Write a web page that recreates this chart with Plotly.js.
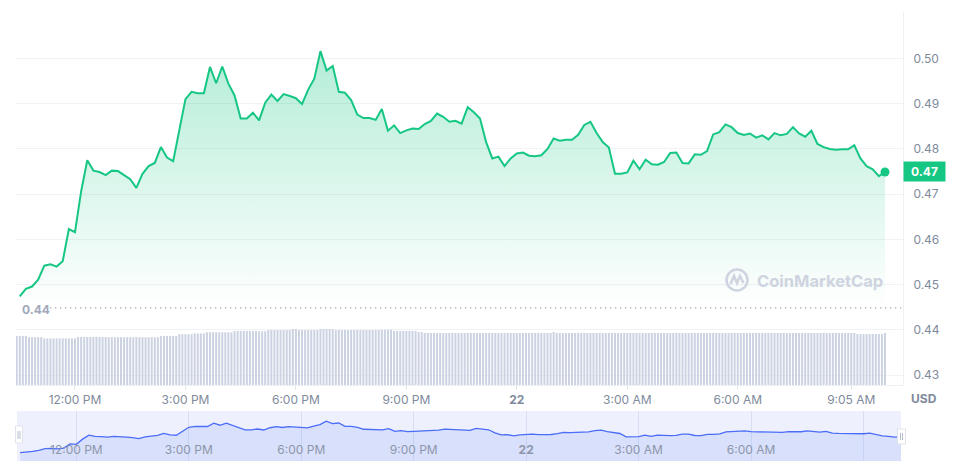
<!DOCTYPE html>
<html>
<head>
<meta charset="utf-8">
<script src="https://cdn.plot.ly/plotly-3.0.1.min.js"></script>
<style>
html,body{margin:0;padding:0;background:#fff;}
#chart{width:970px;height:475px;}
</style>
</head>
<body>
<div id="chart"></div>
<script>
// ---------- DATA ----------
// price, every 10 minutes from 21st 10:30 to 22nd 10:00
const priceStart = '2024-01-21T10:30:00Z';
const priceStepMinutes = 10;
const price = [
  0.4474, 0.4491, 0.4496, 0.4511, 0.4542, 0.4545, 0.4540, 0.4552, 0.4623, 0.4616,
  0.4706, 0.4775, 0.4752, 0.4749, 0.4742, 0.4752, 0.4751, 0.4742, 0.4733, 0.4714,
  0.4745, 0.4762, 0.4769, 0.4804, 0.4781, 0.4773, 0.4843, 0.4910, 0.4926, 0.4923,
  0.4923, 0.4981, 0.4945, 0.4982, 0.4944, 0.4918, 0.4867, 0.4867, 0.4880, 0.4863,
  0.4902, 0.4920, 0.4906, 0.4921, 0.4917, 0.4912, 0.4899, 0.4931, 0.4955, 0.5016,
  0.4973, 0.4983, 0.4926, 0.4924, 0.4908, 0.4876, 0.4868, 0.4868, 0.4864, 0.4888,
  0.4840, 0.4852, 0.4835, 0.4841, 0.4845, 0.4844, 0.4855, 0.4862, 0.4878, 0.4871,
  0.4860, 0.4862, 0.4856, 0.4892, 0.4881, 0.4867, 0.4815, 0.4779, 0.4783, 0.4762,
  0.4779, 0.4790, 0.4792, 0.4785, 0.4784, 0.4786, 0.4800, 0.4823, 0.4818, 0.4820,
  0.4820, 0.4831, 0.4853, 0.4860, 0.4835, 0.4815, 0.4803, 0.4745, 0.4745, 0.4748,
  0.4774, 0.4755, 0.4776, 0.4766, 0.4765, 0.4771, 0.4791, 0.4792, 0.4769, 0.4768,
  0.4788, 0.4787, 0.4795, 0.4832, 0.4837, 0.4854, 0.4848, 0.4835, 0.4831, 0.4834,
  0.4825, 0.4830, 0.4821, 0.4835, 0.4830, 0.4833, 0.4848, 0.4834, 0.4827, 0.4840,
  0.4811, 0.4804, 0.4800, 0.4798, 0.4799, 0.4799, 0.4808, 0.4779, 0.4762, 0.4755,
  0.4740, 0.4749
];
const lowPrice = 0.4449;      // dotted low line, labelled 0.44

// volume (millions USD, 24h rolling), every 5 minutes from 21st 10:25
const volumeStart = '2024-01-21T10:25:00Z';
const volumeStepMinutes = 5;
const volume = [
  283,283,283,283,276,276,276,276,276,
  269,269,269,269,269,269,269,269,269,269,269,
  277,277,277,277,277,277,277,277,277,277,
  276,276,276,276,276,276,276,276,276,276,276,276,276,276,276,276,276,
  283,283,283,283,283,283,
  293,293,293,293,293,
  298,298,298,298,
  304,304,304,304,304,304,304,304,304,
  312,312,312,312,312,312,312,312,
  310,310,310,
  317,317,317,317,317,317,317,317,
  323,323,
  317,317,317,317,317,317,317,
  323,323,323,323,323,
  317,317,317,317,317,317,317,317,317,317,317,317,317,317,317,
  319,319,319,319,
  312,312,312,312,312,312,312,312,
  306,306,
  300,300,300,300,300,300,300,300,300,300,
  300,300,300,300,300,300,300,300,300,300,
  300,300,300,300,300,300,300,300,300,300,
  300,300,300,300,300,300,300,300,300,300,
  300,300,
  306,
  300,300,300,300,300,300,300,300,300,300,
  300,300,300,300,300,300,300,300,300,300,
  300,300,300,300,300,300,300,300,300,300,
  300,300,300,300,300,300,300,300,300,300,
  300,300,300,300,300,300,300,300,300,300,
  300,300,300,300,300,300,300,300,300,300,
  300,300,300,300,300,300,300,300,300,300,
  300,300,300,300,300,300,300,300,300,300,
  300,300,300,300,300,300,300,300,300,300,
  300,300,300,300,300,300,300,300,
  294,294,294,294,294,294,294,294,294,
  300
];

const mainTickTimes = ['2024-01-21 12:00','2024-01-21 15:00','2024-01-21 18:00','2024-01-21 21:00',
                       '2024-01-22 00:00','2024-01-22 03:00','2024-01-22 06:00','2024-01-22 09:05'];
const mainTickText  = ['12:00 PM','3:00 PM','6:00 PM','9:00 PM','<b>22</b>','3:00 AM','6:00 AM','9:05 AM'];
const navTickTimes  = ['2024-01-21 12:00','2024-01-21 15:00','2024-01-21 18:00','2024-01-21 21:00',
                       '2024-01-22 00:00','2024-01-22 03:00','2024-01-22 06:00','2024-01-22 09:00'];
const navTickText   = ['12:00 PM','3:00 PM','6:00 PM','9:00 PM','<b>22</b>','3:00 AM','6:00 AM',''];
const priceTicks    = [0.43,0.44,0.45,0.46,0.47,0.48,0.49,0.50];
const priceTickText = ['0.43','0.44','0.45','0.46','0.47','0.48','0.49','0.50'];

// ---------- helpers ----------
function timeSeries(startIso, stepMin, n){
  const t0 = Date.parse(startIso), out = [];
  for (let i = 0; i < n; i++){
    out.push(new Date(t0 + i*stepMin*60000).toISOString().slice(0,19).replace('T',' '));
  }
  return out;
}
const priceTime = timeSeries(priceStart, priceStepMinutes, price.length);
const volumeTime = timeSeries(volumeStart, volumeStepMinutes, volume.length);
const lastPrice = price[price.length-1];
const maxPrice = Math.max.apply(null, price);

const W = 970, H = 475;
const px = x => x / W;
const py = y => (H - y) / H;

const GREEN = '#16c784';
const LABEL = '#808a9d';
const FONT = 'Inter, "Noto Sans", sans-serif';

// ---------- traces ----------
const traces = [
  { // volume bars
    type:'bar', x: volumeTime, y: volume, xaxis:'x', yaxis:'y3',
    marker:{color:'#cbd2e1', line:{width:0}}, hoverinfo:'skip'
  },
  { // baseline for fill
    type:'scatter', mode:'lines', x:[priceTime[0], priceTime[priceTime.length-1]], y:[lowPrice, lowPrice],
    line:{width:0, color:'rgba(0,0,0,0)'}, xaxis:'x', yaxis:'y', hoverinfo:'skip'
  },
  { // price line
    type:'scatter', mode:'lines', x: priceTime, y: price, xaxis:'x', yaxis:'y',
    line:{color:GREEN, width:2, shape:'linear'},
    fill:'tonexty',
    fillgradient:{type:'vertical', start:lowPrice, stop:maxPrice,
      colorscale:[[0,'rgba(22,199,132,0.0)'],[1,'rgba(22,199,132,0.32)']]},
    hoverinfo:'skip'
  },
  { // end dot
    type:'scatter', mode:'markers', x:[priceTime[priceTime.length-1]], y:[lastPrice],
    marker:{color:GREEN, size:9}, xaxis:'x', yaxis:'y', hoverinfo:'skip'
  },
  { // navigator
    type:'scatter', mode:'lines', x: priceTime, y: price, xaxis:'x2', yaxis:'y2',
    line:{color:'#4a6cf7', width:1.3}, fill:'tozeroy', fillcolor:'rgba(80,115,250,0.13)', hoverinfo:'skip'
  }
];

// ---------- layout ----------
const layout = {
  width: W, height: H,
  margin:{l:0, r:0, t:0, b:0},
  paper_bgcolor:'#ffffff', plot_bgcolor:'#ffffff',
  showlegend:false, hovermode:false,
  font:{family:FONT, size:12, color:LABEL},
  bargap:0.35,
  xaxis:{
    domain:[px(16), px(903)], type:'date',
    range:['2024-01-21 10:23:52','2024-01-22 10:29:20'],
    tickvals: mainTickTimes, ticktext: mainTickText,
    showgrid:false, zeroline:false,
    showline:true, linecolor:'#eef0f4', linewidth:1,
    ticks:'outside', ticklen:4, tickcolor:'#e3e7ee',
    tickfont:{family:FONT, size:12, color:LABEL},
    anchor:'y', fixedrange:true
  },
  yaxis:{
    domain:[py(385), py(12)], range:[0.42785, 0.51024],
    side:'right', anchor:'x',
    tickvals: priceTicks, ticktext: priceTickText,
    showgrid:true, gridcolor:'#f0f2f5', gridwidth:1, zeroline:false,
    showline:true, linecolor:'#eef0f4', linewidth:1,
    ticks:'', ticklabelstandoff:7,
    tickfont:{family:FONT, size:12, color:LABEL},
    fixedrange:true
  },
  yaxis3:{
    overlaying:'y', range:[0, 2152], visible:false, fixedrange:true
  },
  xaxis2:{
    domain:[px(17), px(901)], type:'date', anchor:'y2',
    range:['2024-01-21 10:25','2024-01-22 10:00'],
    tickvals: navTickTimes, ticktext: navTickText,
    ticklabelposition:'inside', ticks:'', ticklabelstandoff:2,
    showgrid:true, gridcolor:'#d9dff3', gridwidth:1,
    showline:false, zeroline:false,
    tickfont:{family:FONT, size:12, color:'#8d96aa'},
    fixedrange:true
  },
  yaxis2:{
    domain:[py(461), py(411)], range:[0.433, 0.519], anchor:'x2',
    visible:false, fixedrange:true
  },
  shapes:[
    {type:'rect', xref:'x2 domain', yref:'y2 domain', x0:0, x1:1, y0:0, y1:1,
     fillcolor:'#eef1fd', line:{width:0}, layer:'below'},
    {type:'line', xref:'paper', yref:'y', x0:px(50), x1:px(903), y0:lowPrice, y1:lowPrice,
     line:{color:'#9ea6b7', width:1.3, dash:'1.3px,3.7px'}},
    // watermark logo
    {type:'circle', xref:'paper', yref:'paper', x0:px(726.5), x1:px(747.5), y0:py(290.5), y1:py(269.5),
     line:{color:'#cfd4e0', width:2.6}, fillcolor:'rgba(0,0,0,0)', layer:'above'},
    {type:'path', xref:'paper', yref:'paper', layer:'above',
     path:'M '+px(730.5)+' '+py(284)+' L '+px(734)+' '+py(276)+' L '+px(737)+' '+py(283)+' L '+px(740)+' '+py(276)+' L '+px(743.5)+' '+py(283),
     line:{color:'#cfd4e0', width:2.6}},
    // navigator handles
    {type:'rect', xref:'paper', yref:'paper', x0:px(15.5), x1:px(22.5), y0:py(443), y1:py(426),
     fillcolor:'#ffffff', line:{color:'#dfe3ec', width:1}, layer:'above'},
    {type:'line', xref:'paper', yref:'paper', x0:px(18), x1:px(18), y0:py(439), y1:py(431), line:{color:'#b6bdcc', width:1}, layer:'above'},
    {type:'line', xref:'paper', yref:'paper', x0:px(20), x1:px(20), y0:py(439), y1:py(431), line:{color:'#b6bdcc', width:1}, layer:'above'},
    {type:'rect', xref:'paper', yref:'paper', x0:px(897.5), x1:px(905.5), y0:py(444), y1:py(429),
     fillcolor:'#ffffff', line:{color:'#dfe3ec', width:1}, layer:'above'},
    {type:'line', xref:'paper', yref:'paper', x0:px(900.5), x1:px(900.5), y0:py(440), y1:py(433), line:{color:'#b6bdcc', width:1}, layer:'above'},
    {type:'line', xref:'paper', yref:'paper', x0:px(902.5), x1:px(902.5), y0:py(440), y1:py(433), line:{color:'#b6bdcc', width:1}, layer:'above'}
  ],
  annotations:[
    { // current price badge
      xref:'paper', yref:'y', x:px(903), y:lastPrice, xanchor:'left', yanchor:'middle',
      text:'<b>0.47</b>', showarrow:false, bgcolor:GREEN, borderpad:2,
      width:37, height:15, align:'center',
      font:{family:FONT, size:12, color:'#ffffff'}
    },
    { // low label
      xref:'paper', yref:'y', x:px(20), y:lowPrice, xanchor:'left', yanchor:'middle', yshift:-2,
      text:'<b>0.44</b>', showarrow:false, font:{family:FONT, size:12, color:'#a1a8b9'}
    },
    { // currency
      xref:'paper', yref:'paper', x:px(924), y:py(398), xanchor:'center', yanchor:'middle',
      text:'<b>USD</b>', showarrow:false, font:{family:FONT, size:12, color:LABEL}
    },
    { // watermark
      xref:'paper', yref:'paper', x:px(755), y:py(280.5), xanchor:'left', yanchor:'middle',
      text:'<b>CoinMarketCap</b>', showarrow:false, font:{family:FONT, size:16.5, color:'#cfd4e0'}
    }
  ]
};

Plotly.newPlot('chart', traces, layout, {displayModeBar:false, staticPlot:true});
</script>
</body>
</html>
